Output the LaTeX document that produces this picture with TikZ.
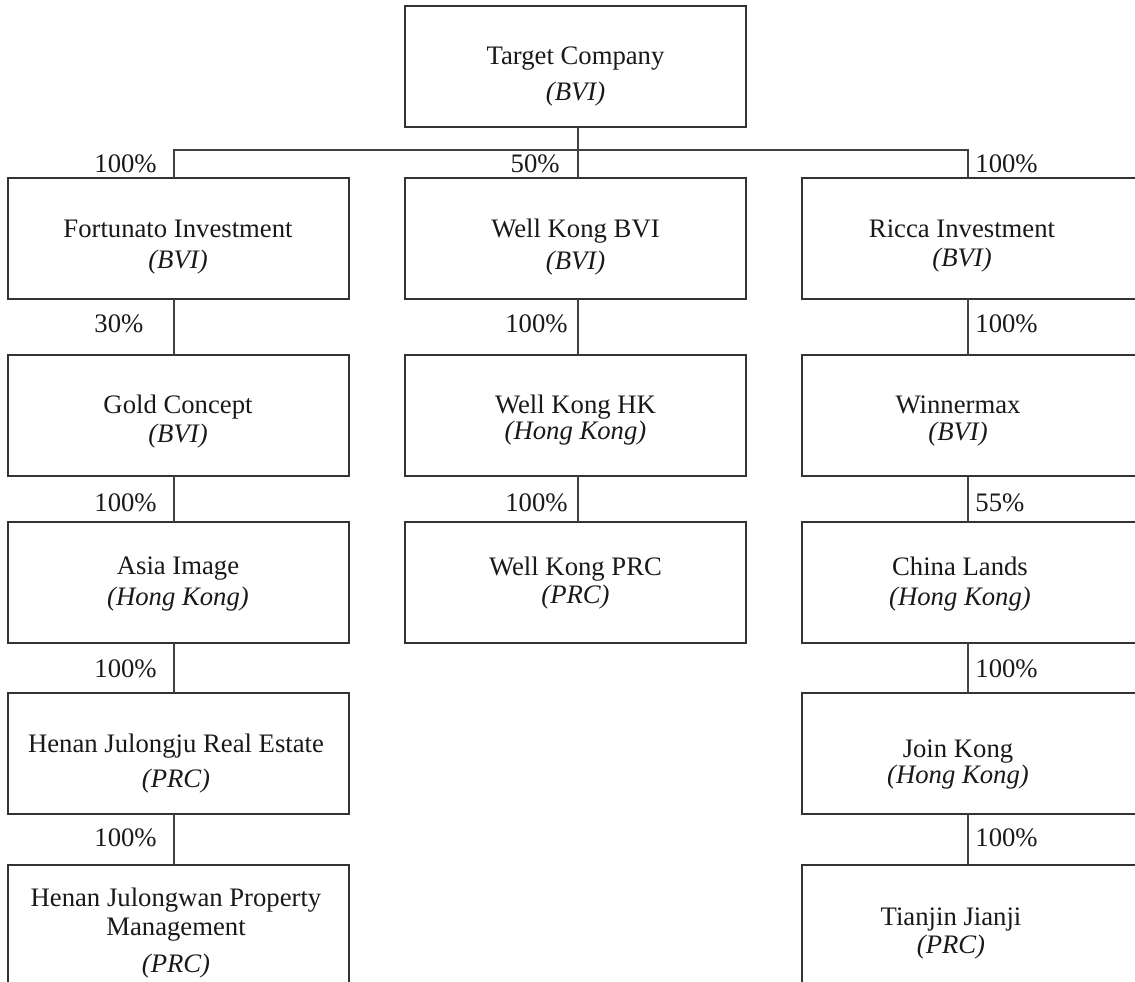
\documentclass[tikz,border=0pt]{standalone}
\usepackage{fontspec}
\setmainfont{Liberation Serif}
\begin{document}
\begin{tikzpicture}[x=0.5pt,y=-0.5pt,
  box/.style={draw=black!80, line width=0.7pt, rectangle, inner sep=0pt, outer sep=0pt},
  conn/.style={draw=black!75, line width=0.55pt},
  txt/.style={anchor=base, inner sep=0pt, font=\fontsize{13.35}{16}\selectfont, text=black!90},
  pct/.style={inner sep=0pt, font=\fontsize{13.35}{16}\selectfont, text=black!90}]
\path[use as bounding box, clip] (0,0) rectangle (1135,981);
\fill[white] (0,0) rectangle (1135,981);
% boxes: corner coordinates in px
\newcommand{\mkbox}[5]{\node[box, minimum width={(#4-#2)*0.5pt}, minimum height={(#5-#3)*0.5pt}] (#1) at ({(#2+#4)/2},{(#3+#5)/2}) {};}
\mkbox{T}{405}{6}{746}{127}
\mkbox{F}{8}{178}{349}{299}
\mkbox{WB}{405}{178}{746}{299}
\mkbox{R}{802}{178}{1160}{299}
\mkbox{G}{8}{355}{349}{476}
\mkbox{WH}{405}{355}{746}{476}
\mkbox{W}{802}{355}{1160}{476}
\mkbox{A}{8}{522}{349}{643}
\mkbox{WP}{405}{522}{746}{643}
\mkbox{C}{802}{522}{1160}{643}
\mkbox{HJ}{8}{693}{349}{814}
\mkbox{J}{802}{693}{1160}{814}
\mkbox{HW}{8}{865}{349}{1000}
\mkbox{TJ}{802}{865}{1160}{1000}
% texts
\node[txt] at (575.5,64) {Target Company};
\node[txt] at (575.5,100) {\itshape (BVI)};
\node[txt] at (178,237) {Fortunato Investment};
\node[txt] at (178,268) {\itshape (BVI)};
\node[txt] at (575.5,237) {Well Kong BVI};
\node[txt] at (575.5,269) {\itshape (BVI)};
\node[txt] at (962,237) {Ricca Investment};
\node[txt] at (962,266) {\itshape (BVI)};
\node[txt] at (178,413) {Gold Concept};
\node[txt] at (178,442) {\itshape (BVI)};
\node[txt] at (575.5,413) {Well Kong HK};
\node[txt] at (575.5,439) {\itshape (Hong Kong)};
\node[txt] at (958,413) {Winnermax};
\node[txt] at (958,440) {\itshape (BVI)};
\node[txt] at (178,574) {Asia Image};
\node[txt] at (178,605) {\itshape (Hong Kong)};
\node[txt] at (575.5,575) {Well Kong PRC};
\node[txt] at (575.5,603) {\itshape (PRC)};
\node[txt] at (960,575) {China Lands};
\node[txt] at (960,605) {\itshape (Hong Kong)};
\node[txt] at (176,752) {Henan Julongju Real Estate};
\node[txt] at (176,787) {\itshape (PRC)};
\node[txt] at (958,757) {Join Kong};
\node[txt] at (958,783) {\itshape (Hong Kong)};
\node[txt] at (176,906) {Henan Julongwan Property};
\node[txt] at (176,935) {Management};
\node[txt] at (176,972) {\itshape (PRC)};
\node[txt] at (951,925) {Tianjin Jianji};
\node[txt] at (951,953) {\itshape (PRC)};
% connector columns
\coordinate (cL) at (174,0);
\coordinate (cM) at (578,0);
\coordinate (cR) at (968,0);
\coordinate (bus) at (578,150);
\draw[conn] (cM |- T.south) -- (bus);
\draw[conn] (cL |- F.north) -- (cL |- bus) -- (cR |- bus) -- (cR |- R.north);
\draw[conn] (bus) -- (cM |- WB.north);
\draw[conn] (cL |- F.south) -- (cL |- G.north);
\draw[conn] (cL |- G.south) -- (cL |- A.north);
\draw[conn] (cL |- A.south) -- (cL |- HJ.north);
\draw[conn] (cL |- HJ.south) -- (cL |- HW.north);
\draw[conn] (cM |- WB.south) -- (cM |- WH.north);
\draw[conn] (cM |- WH.south) -- (cM |- WP.north);
\draw[conn] (cR |- R.south) -- (cR |- W.north);
\draw[conn] (cR |- W.south) -- (cR |- C.north);
\draw[conn] (cR |- C.south) -- (cR |- J.north);
\draw[conn] (cR |- J.south) -- (cR |- TJ.north);
% percentages
\node[pct, anchor=base west] at (94,172) {100\%};
\node[pct, anchor=base east] at (560,172) {50\%};
\node[pct, anchor=base west] at (975,172) {100\%};
\node[pct, anchor=base west] at (94,332) {30\%};
\node[pct, anchor=base east] at (568,332) {100\%};
\node[pct, anchor=base west] at (975,332) {100\%};
\node[pct, anchor=base west] at (94,511) {100\%};
\node[pct, anchor=base east] at (568,511) {100\%};
\node[pct, anchor=base west] at (975,511) {55\%};
\node[pct, anchor=base west] at (94,677) {100\%};
\node[pct, anchor=base west] at (975,677) {100\%};
\node[pct, anchor=base west] at (94,846) {100\%};
\node[pct, anchor=base west] at (975,846) {100\%};
\end{tikzpicture}
\end{document}
